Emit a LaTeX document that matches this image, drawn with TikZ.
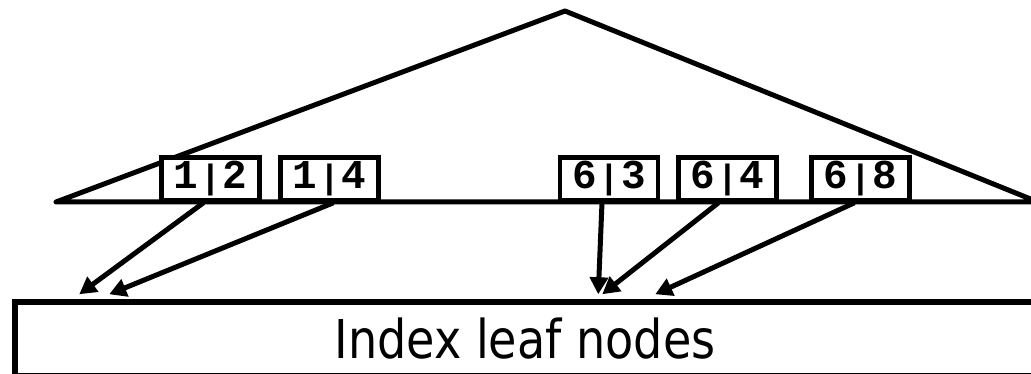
\documentclass[tikz,border=0pt]{standalone}
\usepackage{fontspec}
\usepackage{graphicx}
\usetikzlibrary{arrows.meta,calc}
\newfontfamily\labelfont[FakeStretch=0.862]{DejaVu Sans}
\newfontfamily\keyfont{Liberation Mono}
\newcommand\keypair[2]{#1\makebox[0.6em]{\resizebox*{!}{32pt}{|}}#2}
\begin{document}
\begin{tikzpicture}[x=1pt,y=-1pt,
  keybox/.style={draw,fill=white,line width=4.5pt,inner sep=0pt,
    minimum width=98pt,minimum height=43pt,text height=27pt,text depth=7pt,
    font=\keyfont\bfseries\fontsize{41}{41}\selectfont},
  leafbox/.style={draw,line width=5.5pt,inner sep=0pt,
    minimum width=1020pt,minimum height=74pt,
    font=\labelfont\fontsize{53.5}{53.5}\selectfont},
  ptr/.style={line width=5pt,-{Triangle[length=17pt,width=18pt]}},
  tri/.style={line width=5pt,line join=round,line cap=round}]
\useasboundingbox (0,0) rectangle (1031,374);
\clip (0,0) rectangle (1031,374);
% triangle (index interior)
\coordinate (apex) at (565,11);
\coordinate (bl) at (56,202);
\coordinate (br) at (1038,202);
\draw[tri] (bl) -- (apex) -- (br) -- cycle;
% key boxes
\node[keybox] (k12) at (210.5,179) {\keypair{1}{2}};
\node[keybox] (k14) at (329.5,179) {\keypair{1}{4}};
\node[keybox] (k63) at (609,179) {\keypair{6}{3}};
\node[keybox] (k64) at (727.5,179) {\keypair{6}{4}};
\node[keybox] (k68) at (860.5,179) {\keypair{6}{8}};
% leaf level
\node[leafbox] (leaf) at (525,339) {Index leaf nodes};
% arrow end points on top of leaf box
\coordinate (t1) at ($(leaf.north west)+(67,-5)$);
\coordinate (t2) at ($(leaf.north west)+(97,-5)$);
\coordinate (t3) at ($(leaf.north west)+(586,-5)$);
\coordinate (t4) at ($(leaf.north west)+(590,-5)$);
\coordinate (t5) at ($(leaf.north west)+(643,-5)$);
% pointers
\draw[ptr] ($(k12.south)+(-7,0)$) -- (t1);
\draw[ptr] ($(k14.south)+(4,0)$) -- (t2);
\draw[ptr] ($(k63.south)+(-7,0)$) -- (t3);
\draw[ptr] ($(k64.south)+(-9,0)$) -- (t4);
\draw[ptr] ($(k68.south)+(-6,0)$) -- (t5);
\end{tikzpicture}
\end{document}
